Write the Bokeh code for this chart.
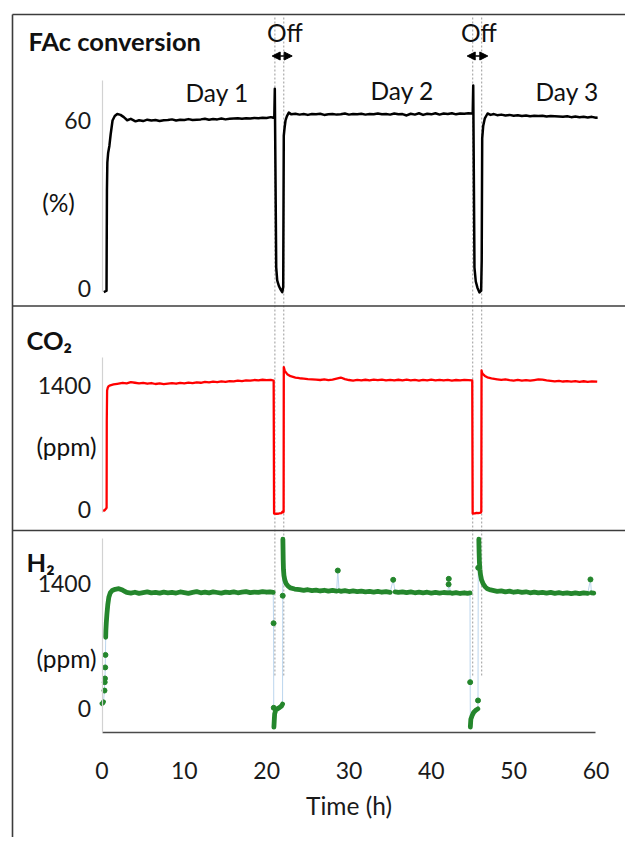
import numpy as np
from bokeh.plotting import figure
from bokeh.models import Range1d, LinearAxis, FixedTicker, Label, Arrow, NormalHead
from bokeh.embed import file_html
from bokeh.resources import INLINE

# ---------------- data ----------------
x_ticks = [0, 10, 20, 30, 40, 50, 60]
fac_ticks = [0, 60]
co2_ticks = [0, 1400]
h2_ticks = [0, 1400]

off_start = [21.0, 45.03]
off_end = [22.08, 46.12]
arrow_from = [20.67, 44.36]
arrow_to = [23.1, 46.86]
day_labels = ["Day 1", "Day 2", "Day 3"]

fac_t = [0.22, 0.55, 0.57, 0.60, 0.65, 0.75, 0.90, 1.05, 1.28, 1.55, 1.85, 2.25, 2.65, 3.06, 3.50, 4.07,
         4.5, 5.0, 5.5, 6.0, 6.5, 7.0, 7.5, 8.0, 8.5, 9.0, 9.5, 10.0, 10.5, 11.0, 11.5, 12.0,
         12.5, 13.0, 13.5, 14.0, 14.5, 15.0, 15.5, 16.0, 16.5, 17.0, 17.5, 18.0, 18.5, 19.0, 19.5, 20.0,
         20.5, 20.8, 20.93, 20.99, 21.16, 21.28, 21.5, 21.7, 21.89, 22.01, 22.08, 22.18, 22.29, 22.45, 22.69, 23.0,
         23.5, 24.0, 24.5, 25.0, 25.5, 26.0, 26.5, 27.0, 27.5, 28.0, 28.5, 29.0, 29.5, 30.0, 30.5, 31.0,
         31.5, 32.0, 32.5, 33.0, 33.5, 34.0, 34.5, 35.0, 35.5, 36.0, 36.5, 37.0, 37.5, 38.0, 38.5, 39.0,
         39.5, 40.0, 40.5, 41.0, 41.5, 42.0, 42.5, 43.0, 43.5, 44.0, 44.5, 44.9, 45.03, 45.09, 45.24, 45.4,
         45.6, 45.85, 46.05, 46.12, 46.18, 46.3, 46.5, 46.83, 47.2, 47.6, 48.0, 48.5, 49.0, 49.5, 50.0, 50.5,
         51.0, 51.5, 52.0, 52.5, 53.0, 53.5, 54.0, 54.5, 55.0, 55.5, 56.0, 56.5, 57.0, 57.5, 58.0, 58.5,
         59.0, 59.5, 60.0, 60.2]
fac_v = [-1.3, -0.8, 15, 35, 45, 48.5, 51, 55, 60, 61.6, 62.3, 62.0, 61.2, 60.1, 60.6, 59.7,
         60.1, 59.8, 60.3, 60.0, 60.2, 59.8, 60.1, 60.2, 60.4, 60.0, 60.3, 60.2, 60.5, 60.2, 60.3, 60.4,
         60.6, 60.3, 60.5, 60.4, 60.7, 60.4, 60.6, 60.7, 60.8, 60.6, 60.8, 60.7, 60.9, 60.8, 61.0, 60.9,
         61.2, 61.0, 61.5, 71.3, 7.6, 2.9, 0.8, -0.4, -1.3, 0.5, 54.6, 57.5, 60.0, 61.5, 62.8, 62.2,
         62.4, 62.1, 62.3, 62.0, 62.3, 62.2, 62.4, 62.0, 62.2, 62.3, 62.1, 62.2, 62.5, 62.1, 62.3, 62.2,
         62.4, 62.1, 62.3, 62.2, 62.5, 62.2, 62.3, 62.1, 62.5, 62.2, 62.3, 61.8, 62.4, 62.1, 62.6, 62.0,
         62.4, 62.2, 62.6, 62.1, 62.5, 62.3, 62.6, 62.2, 62.5, 62.4, 62.6, 62.5, 62.7, 72.5, 7.5, 2.5,
         0.3, -1.4, -0.8, 10, 53.6, 58.0, 60.8, 62.5, 62.0, 62.3, 61.9, 62.1, 61.8, 62.0, 61.7, 61.9,
         61.6, 61.8, 61.5, 61.7, 61.6, 61.7, 61.4, 61.6, 61.5, 61.4, 61.3, 61.5, 61.2, 61.4, 61.2, 61.3,
         61.1, 61.3, 61.0, 61.1]

co2_t = [0.02, 0.30, 0.50, 0.56, 0.58, 0.62, 0.70, 0.83, 1.0, 1.4, 1.85, 2.5, 3.0, 3.5, 4.0, 4.5,
         5.0, 5.5, 6.0, 6.5, 7.0, 7.5, 8.0, 8.5, 9.0, 9.5, 10.0, 10.5, 11.0, 11.5, 12.0, 12.5,
         13.0, 13.5, 14.0, 14.5, 15.0, 15.5, 16.0, 16.5, 17.0, 17.5, 18.0, 18.5, 19.0, 19.5, 20.0, 20.5,
         20.85, 20.9, 21.2, 21.5, 21.8, 21.95, 22.03, 22.06, 22.08, 22.2, 22.5, 22.9, 23.5, 24.0, 24.5, 25.0,
         25.5, 26.0, 26.5, 27.0, 27.5, 28.0, 28.5, 29.0, 29.5, 30.0, 30.5, 31.0, 31.5, 32.0, 32.5, 33.0,
         33.5, 34.0, 34.5, 35.0, 35.5, 36.0, 36.5, 37.0, 37.5, 38.0, 38.5, 39.0, 39.5, 40.0, 40.5, 41.0,
         41.5, 42.0, 42.5, 43.0, 43.5, 44.0, 44.5, 44.97, 45.02, 45.3, 45.5, 45.7, 46.0, 46.07, 46.1, 46.2,
         46.5, 46.8, 47.3, 48.0, 48.5, 49.0, 49.5, 50.0, 50.5, 51.0, 51.5, 52.0, 52.5, 53.0, 53.5, 54.0,
         54.5, 55.0, 55.5, 56.0, 56.5, 57.0, 57.5, 58.0, 58.5, 59.0, 59.5, 60.15]
co2_v = [-10, -12, 10, 20, 1000, 1344, 1375, 1395, 1402, 1412, 1419, 1430, 1424, 1437, 1431, 1424,
         1430, 1420, 1428, 1417, 1424, 1415, 1421, 1427, 1420, 1430, 1425, 1433, 1427, 1436, 1431, 1440,
         1435, 1443, 1439, 1447, 1442, 1450, 1446, 1455, 1450, 1458, 1454, 1462, 1457, 1465, 1460, 1464,
         1456, -45, -48, -45, -40, -22, -30, -20, 1607, 1565, 1528, 1505, 1490, 1482, 1478, 1473,
         1470, 1466, 1462, 1468, 1460, 1466, 1478, 1490, 1472, 1462, 1456, 1463, 1457, 1465, 1459, 1466,
         1460, 1467, 1458, 1464, 1457, 1465, 1459, 1466, 1458, 1463, 1456, 1464, 1458, 1466, 1459, 1464,
         1457, 1463, 1456, 1462, 1458, 1464, 1460, 1457, -45, -44, -38, -42, -35, -25, 1570, 1535,
         1508, 1492, 1480, 1470, 1463, 1468, 1460, 1456, 1463, 1455, 1461, 1454, 1462, 1470, 1466, 1458,
         1452, 1446, 1452, 1445, 1450, 1443, 1449, 1442, 1448, 1441, 1447, 1444]

# H2: dense stretches (None separates stretches) and isolated readings
h2_band_t = [0.0, 0.1, 0.18, None,
             0.45, 0.47, 0.52, 0.6, 0.7, 0.83, 1.0, 1.24, 1.6, 2.04, 2.4, 2.65, 3.0, 3.5, 4.0, 4.5,
             5.0, 5.5, 6.0, 6.5, 7.0, 7.5, 8.0, 8.5, 9.0, 9.5, 10.0, 10.5, 11.0, 11.5, 12.0, 12.5,
             13.0, 13.5, 14.0, 14.5, 15.0, 15.5, 16.0, 16.5, 17.0, 17.5, 18.0, 18.5, 19.0, 19.5, 20.0,
             20.4, 20.8, None,
             20.88, 20.92, 20.97, 21.1, 21.3, 21.55, 21.8, 21.93, None,
             21.97, 21.99, 22.01, 22.04, 22.1, 22.2, 22.35, 22.6, 22.9, 23.4, 24.0, 24.5, 25.0, 25.5,
             26.0, 26.5, 27.0, 27.5, 28.0, 28.5, None,
             28.8, 29.0, 29.5, 30.0, 30.5, 31.0, 31.5, 32.0, 32.5, 33.0, 33.5, 34.0, 34.5, 35.0, None,
             35.6, 36.0, 36.5, 37.0, 37.5, 38.0, 38.5, 39.0, 39.5, 40.0, 40.5, 41.0, 41.5, 42.0, 42.3,
             42.5, 43.0, 43.5, 44.0, 44.4, 44.7, None,
             44.74, 44.8, 44.96, 45.16, 45.4, 45.65, None,
             45.77, 45.8, 45.84, 45.9, 45.97, 46.1, 46.3, 46.55, 46.8, 47.2, 47.6, 48.0, 48.5, 49.0,
             49.5, 50.0, 50.5, 51.0, 51.5, 52.0, 52.5, 53.0, 53.5, 54.0, 54.5, 55.0, 55.5, 56.0, 56.5,
             57.0, 57.5, 58.0, 58.5, 59.0, None,
             59.45, 59.73]
h2_band_v = [55, 62, 75, None,
             798, 873, 960, 1060, 1160, 1246, 1295, 1321, 1335, 1342, 1330, 1318, 1300, 1292, 1302, 1290,
             1298, 1306, 1294, 1300, 1292, 1304, 1296, 1301, 1293, 1305, 1298, 1290, 1300, 1308, 1296, 1302,
             1294, 1306, 1299, 1292, 1303, 1297, 1305, 1296, 1302, 1308, 1298, 1304, 1300, 1309, 1302,
             1307, 1300, None,
             -209, -140, -60, -20, -4, 10, 28, 50, None,
             1896, 1780, 1660, 1560, 1490, 1440, 1400, 1370, 1350, 1338, 1330, 1322, 1330, 1320,
             1326, 1316, 1324, 1314, 1322, 1315, None,
             1318, 1312, 1320, 1310, 1316, 1308, 1315, 1306, 1312, 1304, 1311, 1302, 1309, 1301, None,
             1306, 1300, 1307, 1298, 1305, 1296, 1303, 1295, 1302, 1293, 1300, 1292, 1299, 1294, 1296,
             1290, 1298, 1288, 1296, 1289, 1294, None,
             -207, -120, -78, -41, -20, -4, None,
             1896, 1760, 1640, 1560, 1500, 1440, 1395, 1362, 1340, 1328, 1320, 1312, 1318, 1306,
             1314, 1302, 1310, 1300, 1307, 1296, 1304, 1294, 1301, 1292, 1300, 1290, 1297, 1288, 1295,
             1286, 1294, 1287, 1295, 1289, None,
             1296, 1292]
h2_dot_t = [0.3, 0.33, 0.36, 0.39, 0.42, 20.84, 20.86, 21.95, 28.64, 35.37, 42.1, 42.12, 44.72, 45.67, 45.7, 59.33]
h2_dot_v = [201, 295, 336, 460, 600, 955, 8, 1263, 1545, 1441, 1390, 1452, 295, 90, 1576, 1445]

# ---------------- layout helpers ----------------
W, H = 625, 837
FONT = "Lato"
GREEN = "#24862c"
T0_PX, PX_PER_H = 101.5, 8.233
PANELS = {"default": (288.0, 2.8), "co2": (509.0, 0.08857), "h2": (708.0, 0.0893)}
TXT_SIZE, BOLD_SIZE, TICK_SIZE = "24.5px", "25.5px", "23px"


def px(page_x):
    return (page_x - T0_PX) / PX_PER_H


def py(name, page_y):
    zero, k = PANELS[name]
    return (zero - page_y) / k


def yr(name):
    return Range1d(py(name, H), py(name, 0))


p = figure(width=W, height=H, x_range=Range1d(px(0), px(W)), y_range=yr("default"),
           output_backend="svg", toolbar_location=None, x_axis_location=None,
           y_axis_location=None, min_border=0, outline_line_color=None, title=None,
           background_fill_color="white", border_fill_color="white")
p.extra_y_ranges = {"co2": yr("co2"), "h2": yr("h2")}
p.grid.visible = False

# dotted "Off" guide lines
xs = off_start + off_end
p.segment(x0=xs, x1=xs, y0=[py("default", 17)] * 4, y1=[py("default", 677)] * 4,
          line_color="#9a9a9a", line_width=1, line_dash="2 2")

# panel frame lines
FRAME = "#3c3c3c"
p.segment(x0=[px(12)], x1=[px(640)], y0=[py("default", 14)], y1=[py("default", 14)], line_color=FRAME, line_width=1.6)
p.segment(x0=[px(12)], x1=[px(640)], y0=[py("co2", 305.5)], y1=[py("co2", 305.5)], y_range_name="co2", line_color=FRAME, line_width=1.6)
p.segment(x0=[px(12)], x1=[px(640)], y0=[py("h2", 530)], y1=[py("h2", 530)], y_range_name="h2", line_color=FRAME, line_width=1.6)
p.segment(x0=[px(12)], x1=[px(12)], y0=[py("default", 14)], y1=[py("default", 860)], line_color=FRAME, line_width=1.6)


def style_axis(ax):
    ax.major_tick_line_color = None
    ax.minor_tick_line_color = None
    ax.major_tick_in = 0
    ax.major_tick_out = 0
    ax.minor_tick_in = 0
    ax.minor_tick_out = 0
    ax.major_label_text_font = FONT
    ax.major_label_text_font_size = TICK_SIZE
    ax.major_label_text_color = "#1a1a1a"


for name, ticks, top_px, bot_px in [("default", fac_ticks, 80, 291),
                                     ("co2", co2_ticks, 357, 512),
                                     ("h2", h2_ticks, 538, 732)]:
    ax = LinearAxis(y_range_name=name, fixed_location=0, bounds=(py(name, bot_px), py(name, top_px)),
                    ticker=FixedTicker(ticks=ticks))
    style_axis(ax)
    ax.axis_line_color = "#d2d2d2"
    ax.axis_line_width = 1.2
    ax.major_label_standoff = 11
    p.add_layout(ax, "left")

xax = LinearAxis(y_range_name="h2", fixed_location=py("h2", 732), bounds=(0, 60),
                 ticker=FixedTicker(ticks=x_ticks), axis_label="Time (h)")
style_axis(xax)
xax.axis_line_color = "#4a4a4a"
xax.axis_line_width = 1.5
xax.major_label_standoff = 29
xax.axis_label_text_font = FONT
xax.axis_label_text_font_size = TXT_SIZE
xax.axis_label_text_font_style = "normal"
xax.axis_label_text_color = "#1a1a1a"
xax.axis_label_standoff = 9
p.add_layout(xax, "below")

# series
p.line(fac_t, fac_v, line_color="black", line_width=2.5, line_join="round")
p.line(co2_t, co2_v, y_range_name="co2", line_color="#ff0000", line_width=2.3, line_join="round")

band_t = np.array(h2_band_t, dtype=float)
band_v = np.array(h2_band_v, dtype=float)
ok = ~np.isnan(band_t)
all_t = np.concatenate([band_t[ok], np.array(h2_dot_t, dtype=float)])
all_v = np.concatenate([band_v[ok], np.array(h2_dot_v, dtype=float)])
order = np.argsort(all_t, kind="stable")
p.line(all_t[order], all_v[order], y_range_name="h2", line_color="#bcd6ee", line_width=1)
p.line(band_t, band_v, y_range_name="h2", line_color=GREEN, line_width=4.8,
       line_join="round", line_cap="round")
p.scatter(h2_dot_t, h2_dot_v, y_range_name="h2", size=5, color=GREEN)

# Off arrows
for a, b in zip(arrow_from, arrow_to):
    p.add_layout(Arrow(start=NormalHead(size=8, line_color="black", fill_color="black"),
                       end=NormalHead(size=8, line_color="black", fill_color="black"),
                       x_start=a, x_end=b, y_start=py("default", 55.5), y_end=py("default", 55.5),
                       line_color="black", line_width=1.5))

# texts: (text, page x, page y of centre, panel, align, bold)
texts = [
    ("FAc conversion", 28, 40, "default", "left", True),
    ("(%)", 58, 202, "default", "center", False),
    ("Off", 284.5, 32, "default", "center", False),
    ("Off", 478.3, 32, "default", "center", False),
    (day_labels[0], 185, 92, "default", "left", False),
    (day_labels[1], 370, 90, "default", "left", False),
    (day_labels[2], 535, 91, "default", "left", False),
    ("CO\u2082", 26, 339, "co2", "left", True),
    ("(ppm)", 66, 446, "co2", "center", False),
    ("H\u2082", 26, 561, "h2", "left", True),
    ("(ppm)", 66, 658, "h2", "center", False),
]
for txt, x, y, name, align, bold in texts:
    p.add_layout(Label(x=px(x), y=py(name, y), y_range_name=name, text=txt,
                       text_font=FONT, text_font_size=BOLD_SIZE if bold else TXT_SIZE,
                       text_font_style="bold" if bold else "normal", text_color="#111111",
                       text_align=align, text_baseline="middle"))

open("out.html", "w").write(file_html(p, INLINE))
